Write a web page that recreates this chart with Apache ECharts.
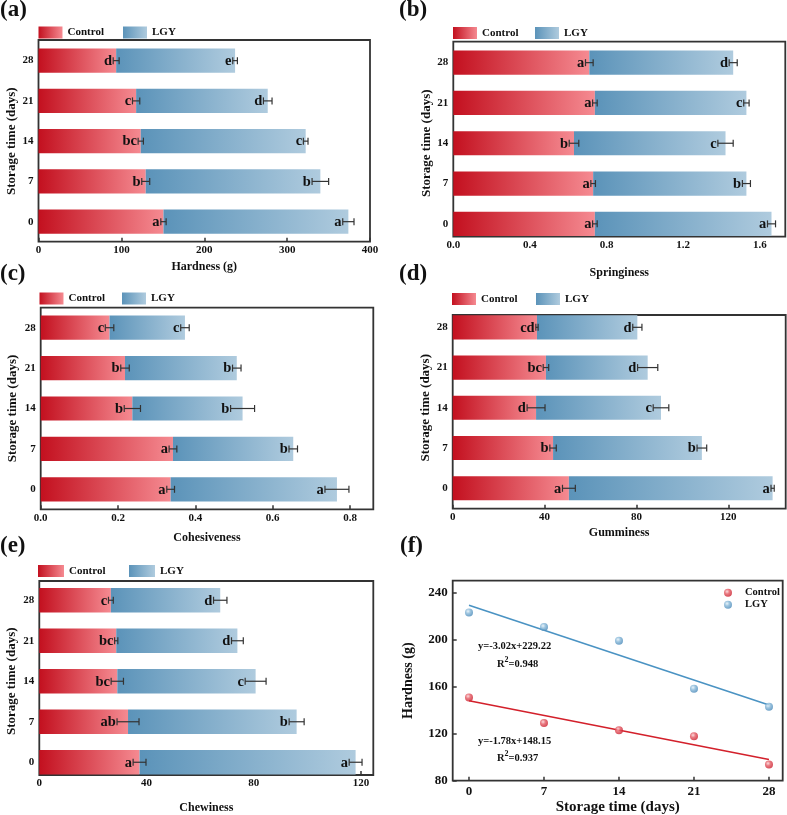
<!DOCTYPE html>
<html><head><meta charset="utf-8">
<script src="https://cdn.jsdelivr.net/npm/echarts@6/dist/echarts.min.js"></script>
<style>html,body{margin:0;padding:0;background:#fff}#c{width:787px;height:815px}</style>
</head><body><div id="c"></div>
<script>
// ---------------- data ----------------
const days = ['0', '7', '14', '21', '28'];

const hardnessControl    = [150.8, 129.4, 123.4, 117.8, 93.7];
const hardnessLGY        = [223.1, 210.7, 199.0, 158.8, 143.5];
const hardnessControlErr = [3.2, 4.8, 3.2, 4.4, 3.6];
const hardnessLGYErr     = [6.8, 10.0, 2.8, 5.2, 2.8];
const hardnessControlSig = ['a', 'b', 'bc', 'c', 'd'];
const hardnessLGYSig     = ['a', 'b', 'c', 'd', 'e'];

const springinessControl    = [0.739, 0.730, 0.630, 0.739, 0.710];
const springinessLGY        = [0.922, 0.800, 0.791, 0.791, 0.751];
const springinessControlErr = [0.012, 0.012, 0.025, 0.012, 0.020];
const springinessLGYErr     = [0.021, 0.021, 0.040, 0.014, 0.021];
const springinessControlSig = ['a', 'a', 'b', 'a', 'a'];
const springinessLGYSig     = ['a', 'b', 'c', 'c', 'd'];

const cohesivenessControl    = [0.336, 0.342, 0.237, 0.218, 0.178];
const cohesivenessLGY        = [0.430, 0.311, 0.285, 0.289, 0.195];
const cohesivenessControlErr = [0.010, 0.010, 0.021, 0.011, 0.011];
const cohesivenessLGYErr     = [0.031, 0.011, 0.031, 0.011, 0.011];
const cohesivenessControlSig = ['a', 'a', 'b', 'b', 'c'];
const cohesivenessLGYSig     = ['a', 'b', 'b', 'b', 'c'];

const gumminessControl    = [50.6, 43.7, 36.3, 40.6, 36.7];
const gumminessLGY        = [88.7, 64.8, 54.4, 44.3, 43.7];
const gumminessControlErr = [2.8, 1.4, 3.9, 1.2, 0.5];
const gumminessLGYErr     = [0.7, 2.1, 3.4, 4.4, 2.0];
const gumminessControlSig = ['a', 'b', 'd', 'bc', 'cd'];
const gumminessLGYSig     = ['a', 'b', 'c', 'd', 'd'];

const chewinessControl    = [37.4, 33.1, 29.1, 28.7, 26.7];
const chewinessLGY        = [80.6, 62.9, 51.6, 45.2, 40.8];
const chewinessControlErr = [2.4, 4.1, 2.3, 0.6, 0.9];
const chewinessLGYErr     = [2.4, 2.8, 3.9, 2.2, 2.5];
const chewinessControlSig = ['a', 'ab', 'bc', 'bc', 'c'];
const chewinessLGYSig     = ['a', 'b', 'c', 'd', 'd'];

// panel (f)
const storageDays      = [0, 7, 14, 21, 28];
const fitControlHard   = [150.8, 129.0, 122.8, 117.7, 93.7];
const fitLGYHard       = [223.0, 210.6, 199.0, 158.2, 142.9];
const fitLineDays      = [0, 28];
const fitLineControl   = [148.0, 98.0];
const fitLineLGY       = [229.2, 144.4];
const fTicksX          = [0, 7, 14, 21, 28];
const eqLGY   = 'y=-3.02x+229.22', r2LGY = '0.948';
const eqCtrl  = 'y=-1.78x+148.15', r2Ctrl = '0.937';

// ---------------- styles ----------------
const FONT = '"Liberation Serif","Times New Roman",serif';
const AX = '#333';
const gradC = {type:'linear', x:0, y:0, x2:1, y2:0, colorStops:[{offset:0,color:'#c3101f'},{offset:1,color:'#f58a91'}]};
const gradL = {type:'linear', x:0, y:0, x2:1, y2:0, colorStops:[{offset:0,color:'#5b93b9'},{offset:1,color:'#afcbde'}]};
const ballR = {type:'radial', x:0.38, y:0.35, r:0.65, colorStops:[{offset:0,color:'#fbd3d6'},{offset:0.45,color:'#e45a63'},{offset:1,color:'#cc2230'}]};
const ballB = {type:'radial', x:0.38, y:0.35, r:0.65, colorStops:[{offset:0,color:'#e3f0f8'},{offset:0.45,color:'#86b7d8'},{offset:1,color:'#4d8cbb'}]};

const panels = [
  {label:'(a)', lx:0, ly:10, name:'Hardness (g)', c:hardnessControl, l:hardnessLGY, ce:hardnessControlErr, le:hardnessLGYErr, cs:hardnessControlSig, ls:hardnessLGYSig, step:100, dec:0, max:400, showMax:true,
   frame:{left:38.5, top:40, width:331.5, height:201.7}, band:{top:40.5, height:201.3}, xGap:19, yGap:19, leg:[38.5, 123, 26.5], legW:24},
  {label:'(b)', lx:399, ly:10, name:'Springiness', c:springinessControl, l:springinessLGY, ce:springinessControlErr, le:springinessLGYErr, cs:springinessControlSig, ls:springinessLGYSig, step:0.4, dec:1, max:1.733, showMax:false,
   frame:{left:453.3, top:41.7, width:332, height:195}, band:{top:42.5, height:201.5}, xGap:30.5, yGap:18.5, leg:[453, 535, 27], legW:24},
  {label:'(c)', lx:0, ly:274, name:'Cohesiveness', c:cohesivenessControl, l:cohesivenessLGY, ce:cohesivenessControlErr, le:cohesivenessLGYErr, cs:cohesivenessControlSig, ls:cohesivenessLGYSig, step:0.2, dec:1, max:0.86, showMax:false,
   frame:{left:40.7, top:307.7, width:332.6, height:201.6}, band:{top:307.5, height:202}, xGap:23, yGap:22, leg:[39.5, 122, 292.5], legW:24},
  {label:'(d)', lx:399, ly:274, name:'Gumminess', c:gumminessControl, l:gumminessLGY, ce:gumminessControlErr, le:gumminessLGYErr, cs:gumminessControlSig, ls:gumminessLGYSig, step:40, dec:0, max:145, showMax:false,
   frame:{left:452.7, top:315, width:333, height:193.7}, band:{top:307.2, height:201.2}, xGap:18.5, yGap:21, leg:[452, 536, 293], legW:24},
  {label:'(e)', lx:0, ly:546, name:'Chewiness', c:chewinessControl, l:chewinessLGY, ce:chewinessControlErr, le:chewinessLGYErr, cs:chewinessControlSig, ls:chewinessLGYSig, step:40, dec:0, max:124.6, showMax:false,
   frame:{left:39.3, top:581, width:334, height:194}, band:{top:580, height:202.5}, xGap:26.5, yGap:21, leg:[38, 129, 565], legW:26}
];

const grid = [], xAxis = [], yAxis = [], series = [], legend = [], graphic = [];
const legText = {fontFamily:FONT, fontWeight:'bold', fontSize:11, color:'#111'};

function errRender(vals, errs, base, sigs) {
  return function (params, api) {
    const i = params.dataIndex;
    const end = (base ? base[i] : 0) + vals[i];
    const e = errs[i];
    const p0 = api.coord([end - e, i]);
    const p1 = api.coord([end + e, i]);
    const y = p0[1], h = 3.5;
    const st = {stroke:'#333', lineWidth:1.2};
    return {type:'group', children:[
      {type:'line', shape:{x1:p0[0], y1:y, x2:p1[0], y2:y}, style:st},
      {type:'line', shape:{x1:p0[0], y1:y-h, x2:p0[0], y2:y+h}, style:st},
      {type:'line', shape:{x1:p1[0], y1:y-h, x2:p1[0], y2:y+h}, style:st},
      {type:'text', style:{text:sigs[i], x:p0[0]-1.2, y:y+0.5, align:'right', verticalAlign:'middle', textAlign:'right', textVerticalAlign:'middle', font:'bold 14.5px ' + FONT, fill:'#111'}}
    ]};
  };
}

panels.forEach((p, k) => {
  const gf = grid.length, gd = gf + 1;
  grid.push(Object.assign({show:true, borderColor:AX, borderWidth:1.8, backgroundColor:'transparent', outerBoundsMode:'none', containLabel:false}, p.frame));
  grid.push({left:p.frame.left, width:p.frame.width, top:p.band.top, height:p.band.height, outerBoundsMode:'none', containLabel:false});
  xAxis.push({gridIndex:gf, type:'value', min:0, max:p.max, interval:p.step,
    axisLine:{show:false, onZero:false}, splitLine:{show:false},
    axisTick:{show:true, inside:true, length:4, lineStyle:{color:AX, width:1.5}},
    axisLabel:{showMaxLabel:p.showMax, showMinLabel:true, margin:3, fontFamily:FONT, fontWeight:'bold', fontSize:11, color:'#111', formatter:v => Number(v).toFixed(p.dec)},
    name:p.name, nameLocation:'middle', nameGap:p.xGap, nameTextStyle:{fontFamily:FONT, fontWeight:'bold', fontSize:12, color:'#111'}});
  yAxis.push({gridIndex:gf, type:'value', min:0, max:1, show:false});
  xAxis.push({gridIndex:gd, type:'value', min:0, max:p.max, show:false});
  yAxis.push({gridIndex:gd, type:'category', data:days, boundaryGap:true,
    axisLine:{show:false}, axisTick:{show:false},
    axisLabel:{margin:5, fontFamily:FONT, fontWeight:'bold', fontSize:11, color:'#111'},
    name:'Storage time (days)', nameLocation:'middle', nameGap:p.yGap, nameTextStyle:{fontFamily:FONT, fontWeight:'bold', fontSize:13, color:'#111'}});
  const xi = xAxis.length - 1, yi = yAxis.length - 1;
  series.push({name:'Control', type:'bar', xAxisIndex:xi, yAxisIndex:yi, stack:'s' + k, data:p.c, barWidth:'60%', itemStyle:{color:gradC}, silent:true});
  series.push({name:'LGY', type:'bar', xAxisIndex:xi, yAxisIndex:yi, stack:'s' + k, data:p.l, barWidth:'60%', itemStyle:{color:gradL}, silent:true});
  series.push({type:'custom', xAxisIndex:xi, yAxisIndex:yi, z:5, clip:false, silent:true,
    data:days.map((d, i) => [p.c[i], i]), encode:{x:0, y:1}, renderItem:errRender(p.c, p.ce, null, p.cs)});
  series.push({type:'custom', xAxisIndex:xi, yAxisIndex:yi, z:5, clip:false, silent:true,
    data:days.map((d, i) => [p.c[i] + p.l[i], i]), encode:{x:0, y:1}, renderItem:errRender(p.l, p.le, p.c, p.ls)});
  legend.push({data:['Control'], left:p.leg[0], top:p.leg[2], padding:0, icon:'rect', itemWidth:p.legW, itemHeight:12, selectedMode:false, textStyle:legText});
  legend.push({data:['LGY'], left:p.leg[1], top:p.leg[2], padding:0, icon:'rect', itemWidth:p.legW, itemHeight:12, selectedMode:false, textStyle:legText});
  graphic.push({type:'text', x:p.lx, y:p.ly, style:{text:p.label, font:'bold 23px ' + FONT, fill:'#111', textVerticalAlign:'middle', verticalAlign:'middle'}});
});

// ---------------- panel (f) ----------------
const gF = grid.length;
grid.push({left:452.7, top:580.7, width:330, height:200, show:true, borderColor:AX, borderWidth:1.8, backgroundColor:'transparent', outerBoundsMode:'none', containLabel:false});
xAxis.push({gridIndex:gF, type:'value', min:-1.52, max:29.28,
  axisLine:{show:false, onZero:false}, splitLine:{show:false}, axisTick:{show:false},
  axisLabel:{customValues:fTicksX, margin:4.5, fontFamily:FONT, fontWeight:'bold', fontSize:13, color:'#111'},
  name:'Storage time (days)', nameLocation:'middle', nameGap:19, nameTextStyle:{fontFamily:FONT, fontWeight:'bold', fontSize:15, color:'#111'}});
yAxis.push({gridIndex:gF, type:'value', min:80, max:250, interval:40,
  axisLine:{show:false, onZero:false}, splitLine:{show:false},
  axisTick:{show:true, inside:true, length:4, lineStyle:{color:AX, width:1.5}},
  axisLabel:{showMaxLabel:false, margin:5, fontFamily:FONT, fontWeight:'bold', fontSize:13, color:'#111'},
  name:'Hardness (g)', nameLocation:'middle', nameGap:37, nameTextStyle:{fontFamily:FONT, fontWeight:'bold', fontSize:14, color:'#111'}});
const fx = xAxis.length - 1, fy = yAxis.length - 1;
// x-axis ticks of (f), placed through the axis scale
series.push({type:'custom', xAxisIndex:fx, yAxisIndex:fy, silent:true, clip:false, z:6,
  data:fTicksX.map(v => [v, 80]), encode:{x:0, y:1},
  renderItem:(params, api) => { const p = api.coord([api.value(0), 80]);
    return {type:'line', shape:{x1:p[0], y1:p[1], x2:p[0], y2:p[1]-4}, style:{stroke:AX, lineWidth:1.5}}; }});
series.push({type:'line', xAxisIndex:fx, yAxisIndex:fy, data:fitLineDays.map((d, i) => [d, fitLineLGY[i]]), symbol:'none', lineStyle:{color:'#4a93c3', width:1.6}, silent:true, z:2});
series.push({type:'line', xAxisIndex:fx, yAxisIndex:fy, data:fitLineDays.map((d, i) => [d, fitLineControl[i]]), symbol:'none', lineStyle:{color:'#d3202b', width:1.6}, silent:true, z:2});
series.push({name:'Control (f)', type:'scatter', xAxisIndex:fx, yAxisIndex:fy, data:storageDays.map((d, i) => [d, fitControlHard[i]]), symbolSize:8, itemStyle:{color:ballR}, z:3});
series.push({name:'LGY (f)', type:'scatter', xAxisIndex:fx, yAxisIndex:fy, data:storageDays.map((d, i) => [d, fitLGYHard[i]]), symbolSize:8, itemStyle:{color:ballB}, z:3});
legend.push({data:['Control (f)', 'LGY (f)'], orient:'vertical', left:724, top:587, padding:0, itemGap:0.5, icon:'circle', itemWidth:8, itemHeight:8, selectedMode:false,
  formatter:n => n.replace(' (f)', ''), textStyle:{fontFamily:FONT, fontWeight:'bold', fontSize:10.5, color:'#111', padding:[0,0,0,8], lineHeight:11.5}});
graphic.push({type:'text', x:400, y:546, style:{text:'(f)', font:'bold 23px ' + FONT, fill:'#111', textVerticalAlign:'middle', verticalAlign:'middle'}});

function eqText(x, y, t) {
  return {type:'text', x:x, y:y, style:{text:t, font:'bold 10.5px ' + FONT, fill:'#111', textVerticalAlign:'middle', verticalAlign:'middle'}};
}
function r2Text(x, y, v) {
  return {type:'text', x:x, y:y, style:{text:'{r|R}{s|2}{r|=' + v + '}', textVerticalAlign:'middle', verticalAlign:'middle',
    rich:{r:{fontFamily:FONT, fontWeight:'bold', fontSize:10.5, fill:'#111', lineHeight:17, verticalAlign:'middle'},
          s:{fontFamily:FONT, fontWeight:'bold', fontSize:8, fill:'#111', lineHeight:17, verticalAlign:'top'}}}};
}
graphic.push(eqText(478, 646, eqLGY), r2Text(497, 664, r2LGY), eqText(478, 741, eqCtrl), r2Text(497, 758, r2Ctrl));

const chart = echarts.init(document.getElementById('c'), null, {renderer:'canvas'});
chart.setOption({animation:false, backgroundColor:'#fff', grid, xAxis, yAxis, series, legend, graphic});
</script></body></html>
